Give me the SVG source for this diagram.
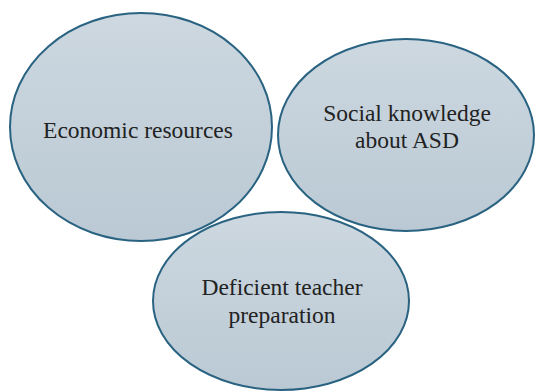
<svg xmlns="http://www.w3.org/2000/svg" width="536" height="392" viewBox="0 0 536 392">
<defs>
<linearGradient id="g" x1="0" y1="0" x2="0" y2="1">
<stop offset="0" stop-color="#cdd8e0"/>
<stop offset="1" stop-color="#bac9d4"/>
</linearGradient>
</defs>
<style>
.n{fill:url(#g);stroke:#2a6382;stroke-width:2}
.t{font-family:"Liberation Serif",serif;font-size:23.5px;fill:#222;text-anchor:middle}
</style>
<rect width="536" height="392" fill="#fff"/>
<g id="connectors"/>
<g id="economic">
<ellipse class="n" cx="141" cy="127" rx="131" ry="114"/>
<text class="t" x="138" y="138">Economic resources</text>
</g>
<g id="social">
<ellipse class="n" cx="406" cy="135" rx="128" ry="96"/>
<text class="t" x="407" y="121">Social knowledge</text>
<text class="t" x="407" y="148">about ASD</text>
</g>
<g id="teacher">
<ellipse class="n" cx="281" cy="301" rx="128" ry="89"/>
<text class="t" x="282" y="295">Deficient teacher</text>
<text class="t" x="282" y="323">preparation</text>
</g>
</svg>
